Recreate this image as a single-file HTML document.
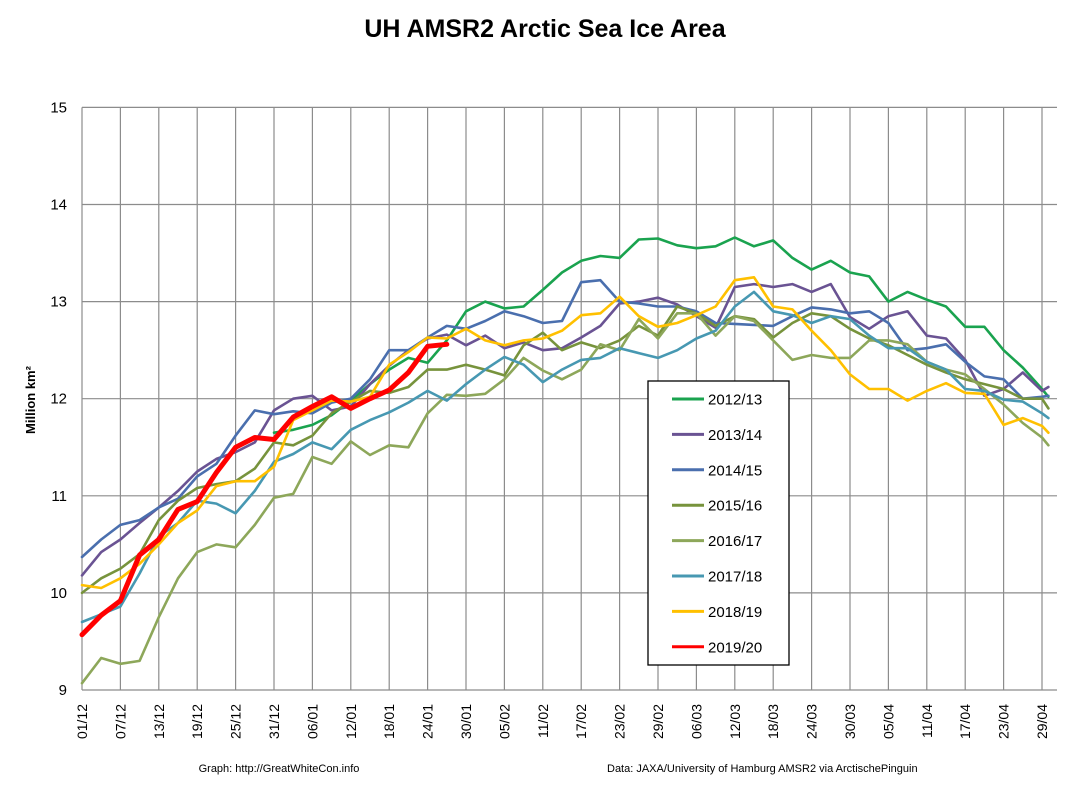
<!DOCTYPE html>
<html><head><meta charset="utf-8"><style>
html,body{margin:0;padding:0;background:#fff;}
body{width:1089px;height:795px;overflow:hidden;position:relative;font-family:"Liberation Sans",sans-serif;}
</style></head><body>
<svg id="chart" width="1089" height="795" xmlns="http://www.w3.org/2000/svg" style="position:absolute;left:0;top:0">
<text x="545" y="37" text-anchor="middle" font-family="Liberation Sans, sans-serif" font-weight="bold" font-size="25" fill="#000">UH AMSR2 Arctic Sea Ice Area</text>
<text transform="translate(35,400) rotate(-90)" text-anchor="middle" font-family="Liberation Sans, sans-serif" font-weight="bold" font-size="13" fill="#000">Million km²</text>
<g id="grid"></g>
<g id="series"></g>
<g id="legend"></g>
<text x="279" y="772" text-anchor="middle" font-size="11" fill="#000">Graph: http://GreatWhiteCon.info</text>
<text x="607" y="772" font-size="11" fill="#000">Data: JAXA/University of Hamburg AMSR2 via ArctischePinguin</text>
</svg>
<script>
const days = [0,3,6,9,12,15,18,21,24,27,30,33,36,39,42,45,48,51,54,57,60,63,66,69,72,75,78,81,84,87,90,93,96,99,102,105,108,111,114,117,120,123,126,129,132,135,138,141,144,147,150,151];
const xTickLabels = ["01/12","07/12","13/12","19/12","25/12","31/12","06/01","12/01","18/01","24/01","30/01","05/02","11/02","17/02","23/02","29/02","06/03","12/03","18/03","24/03","30/03","05/04","11/04","17/04","23/04","29/04"];
const yTicks = [9,10,11,12,13,14,15];
const seriesNames = ["2012/13","2013/14","2014/15","2015/16","2016/17","2017/18","2018/19","2019/20"];
const s2012 = [null,null,null,null,null,null,null,null,null,null,11.65,11.68,11.73,11.83,11.98,12.15,12.3,12.42,12.37,12.6,12.9,13.0,12.93,12.95,13.12,13.3,13.42,13.47,13.45,13.64,13.65,13.58,13.55,13.57,13.66,13.57,13.63,13.45,13.33,13.42,13.3,13.26,13.0,13.1,13.02,12.95,12.74,12.74,12.5,12.32,12.1,12.02];
const s2013 = [10.18,10.42,10.55,10.72,10.88,11.05,11.25,11.38,11.45,11.55,11.88,12.0,12.03,11.88,11.92,12.15,12.34,12.5,12.62,12.66,12.55,12.65,12.52,12.58,12.5,12.52,12.63,12.75,12.98,13.0,13.04,12.97,12.85,12.73,13.15,13.18,13.15,13.18,13.1,13.18,12.84,12.72,12.85,12.9,12.65,12.62,12.4,12.03,12.1,12.27,12.08,12.12];
const s2014 = [10.37,10.55,10.7,10.75,10.88,10.97,11.2,11.33,11.62,11.88,11.84,11.87,11.85,11.96,12.0,12.2,12.5,12.5,12.63,12.75,12.72,12.8,12.9,12.85,12.78,12.8,13.2,13.22,13.0,12.98,12.95,12.95,12.9,12.78,12.77,12.76,12.75,12.85,12.94,12.92,12.88,12.9,12.78,12.5,12.52,12.56,12.38,12.23,12.2,12.0,12.02,12.03];
const s2015 = [10.0,10.15,10.25,10.4,10.75,10.95,11.08,11.12,11.15,11.28,11.55,11.52,11.62,11.85,11.97,12.08,12.06,12.12,12.3,12.3,12.35,12.3,12.24,12.55,12.68,12.5,12.58,12.52,12.6,12.75,12.65,12.95,12.88,12.75,12.85,12.82,12.63,12.78,12.88,12.85,12.72,12.62,12.55,12.45,12.35,12.27,12.2,12.15,12.1,12.0,12.0,11.9];
const s2016 = [9.07,9.33,9.27,9.3,9.75,10.15,10.42,10.5,10.47,10.7,10.98,11.02,11.4,11.33,11.56,11.42,11.52,11.5,11.85,12.04,12.03,12.05,12.2,12.42,12.29,12.2,12.3,12.56,12.5,12.82,12.62,12.88,12.88,12.65,12.85,12.8,12.6,12.4,12.45,12.42,12.42,12.6,12.6,12.56,12.38,12.3,12.25,12.1,11.94,11.75,11.6,11.52];
const s2017 = [9.7,9.78,9.86,10.2,10.58,10.72,10.95,10.92,10.82,11.05,11.35,11.43,11.55,11.48,11.68,11.78,11.86,11.96,12.08,11.98,12.15,12.3,12.43,12.35,12.17,12.3,12.4,12.42,12.52,12.47,12.42,12.5,12.62,12.7,12.95,13.1,12.9,12.86,12.78,12.85,12.82,12.65,12.52,12.52,12.38,12.3,12.1,12.08,11.99,11.97,11.85,11.8];
const s2018 = [10.08,10.05,10.15,10.3,10.5,10.72,10.85,11.1,11.15,11.15,11.3,11.78,11.88,11.98,11.97,12.02,12.35,12.48,12.63,12.62,12.72,12.6,12.55,12.6,12.62,12.7,12.86,12.88,13.05,12.85,12.74,12.78,12.86,12.95,13.22,13.25,12.95,12.92,12.7,12.5,12.25,12.1,12.1,11.98,12.08,12.16,12.06,12.05,11.73,11.8,11.72,11.65];
const s2019 = [9.57,9.77,9.92,10.39,10.55,10.86,10.94,11.24,11.5,11.6,11.58,11.81,11.92,12.02,11.9,12.0,12.09,12.27,12.54,12.56,null,null,null,null,null,null,null,null,null,null,null,null,null,null,null,null,null,null,null,null,null,null,null,null,null,null,null,null,null,null,null,null];
const allSeries = [s2012,s2013,s2014,s2015,s2016,s2017,s2018,s2019];
const colors = ["#1aa34f","#6a5393","#4a6fae","#77933c","#8da75a","#4798b2","#ffc000","#ff0000"];
const widths = [2.6,2.6,2.6,2.6,2.6,2.6,2.6,5];

const NS="http://www.w3.org/2000/svg";
const X0=82, PXDAY=6.4, YBASE=690, PXUNIT=97.1, XEND=1057;
function xs(d){return X0+d*PXDAY;}
function ys(v){return YBASE-(v-9)*PXUNIT;}
function mk(tag,attrs,parent){const e=document.createElementNS(NS,tag);for(const k in attrs)e.setAttribute(k,attrs[k]);parent.appendChild(e);return e;}

const grid=document.getElementById('grid');
yTicks.forEach(v=>{
  const l=mk('line',{x1:X0,x2:XEND,y1:ys(v),y2:ys(v),stroke:'#8c8c8c','stroke-width':1.2},grid);
  
  
  const t=mk('text',{x:67,y:ys(v)+5,'text-anchor':'end','font-size':15,fill:'#000'},grid);
  
  
  t.textContent=v;
});
xTickLabels.forEach((lab,i)=>{
  const x=xs(i*6);
  const l=mk('line',{x1:x,x2:x,y1:ys(15),y2:ys(9),stroke:'#8c8c8c','stroke-width':1.2},grid);
  
  
  const t=mk('text',{transform:`translate(${x+5},704) rotate(-90)`,'text-anchor':'end','font-size':14,fill:'#000'},grid);
  
  
  t.textContent=lab;
});

const sg=document.getElementById('series');
allSeries.forEach((vals,si)=>{
  let d='';let pen=false;
  vals.forEach((v,i)=>{
    if(v===null){pen=false;return;}
    d+=(pen?'L':'M')+xs(days[i]).toFixed(1)+' '+ys(v).toFixed(1)+' ';pen=true;
  });
  const p=mk('path',{d:d,fill:'none',stroke:colors[si],'stroke-width':widths[si],'stroke-linejoin':'round','stroke-linecap':'round'},sg);
  
  
});

const lg=document.getElementById('legend');
const box=mk('rect',{x:648,y:381,width:141,height:284,fill:'#fff',stroke:'#000','stroke-width':1.3},lg);


seriesNames.forEach((n,i)=>{
  const y=399+i*35.4;
  const l=mk('line',{x1:672,x2:704,y1:y,y2:y,stroke:colors[i],'stroke-width':3},lg);
  
  
  const t=mk('text',{x:708,y:y+5.5,'font-size':15,fill:'#000'},lg);
  
  
  t.textContent=n;
});
</script>
</body></html>
